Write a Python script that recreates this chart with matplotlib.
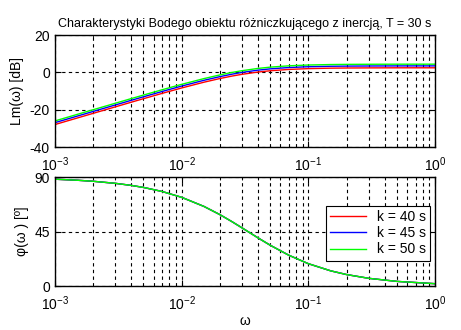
import matplotlib
matplotlib.use("Agg")
import matplotlib.pyplot as plt
from matplotlib.ticker import LogLocator, NullFormatter

plt.rcParams['font.family'] = ['Liberation Sans', 'DejaVu Sans']
plt.rcParams['mathtext.default'] = 'regular'
plt.rcParams['axes.unicode_minus'] = False

# Values
omega = [0.001, 0.0015, 0.002, 0.003, 0.004, 0.005, 0.007, 0.01, 0.015, 0.02, 0.025,
         0.03, 0.04, 0.05, 0.07, 0.1, 0.15, 0.2, 0.3, 0.5, 1.0]
lm_k40 = [-27.96, -24.45, -21.96, -18.46, -15.98, -14.08, -11.25, -8.33, -5.24, -3.28, -1.94,
          -1.00, 0.21, 0.90, 1.61, 2.04, 2.29, 2.38, 2.44, 2.48, 2.49]
lm_k45 = [-26.94, -23.43, -20.94, -17.44, -14.96, -13.06, -10.23, -7.31, -4.22, -2.26, -0.92,
          0.02, 1.23, 1.92, 2.63, 3.06, 3.31, 3.40, 3.46, 3.50, 3.51]
lm_k50 = [-26.02, -22.51, -20.02, -16.52, -14.04, -12.14, -9.31, -6.39, -3.30, -1.34, 0.00,
          0.94, 2.15, 2.84, 3.55, 3.98, 4.23, 4.32, 4.38, 4.42, 4.43]
phase = [88.28, 87.42, 86.57, 84.86, 83.16, 81.47, 78.14, 73.30, 65.77, 59.04, 53.13,
         48.01, 39.81, 33.69, 25.46, 18.43, 12.53, 9.46, 6.34, 3.81, 1.91]

labels = ['k = 40 s', 'k = 45 s', 'k = 50 s']
colors = ['#ff0000', '#0000ff', '#00ff00']

fig = plt.figure(figsize=(4.61, 3.30), dpi=100)
ax1 = fig.add_axes([0.119, 0.5545, 0.825, 0.339])
ax2 = fig.add_axes([0.119, 0.1333, 0.825, 0.330])

for lm, c in zip([lm_k40, lm_k45, lm_k50], colors):
    ax1.semilogx(omega, lm, color=c, linewidth=1.0)
for lab, c in zip(labels, colors):
    ax2.semilogx(omega, phase, color=c, linewidth=1.0, label=lab)


def style(ax):
    ax.set_xlim(1e-3, 1)
    ax.xaxis.set_major_locator(LogLocator(base=10, numticks=10))
    ax.xaxis.set_minor_locator(LogLocator(base=10, subs=range(2, 10), numticks=10))
    ax.xaxis.set_minor_formatter(NullFormatter())
    ax.grid(True, which='major', color='black', linestyle=(0, (3, 3)), linewidth=0.8)
    ax.grid(True, which='minor', axis='x', color='black', linestyle=(0, (3, 3)), linewidth=0.8)
    ax.tick_params(which='both', direction='in', top=True, right=True, labelsize=10)
    ax.tick_params(axis='x', which='major', pad=6)
    ax.tick_params(which='major', length=4)
    ax.tick_params(which='minor', length=2)
    for s in ax.spines.values():
        s.set_linewidth(1.0)


style(ax1)
ax1.set_ylim(-40, 20)
ax1.set_yticks([-40, -20, 0, 20])
ax1.set_ylabel('Lm(ω) [dB]', fontsize=10, labelpad=4)
ax1.set_title('Charakterystyki Bodego obiektu różniczkującego z inercją, T = 30 s',
              fontsize=9, pad=6)

style(ax2)
ax2.set_ylim(0, 90)
ax2.set_yticks([0, 45, 90])
ax2.set_ylabel('φ(ω ) [º]', fontsize=10, labelpad=4)
ax2.set_xlabel('ω', fontsize=10, labelpad=1)

leg = ax2.legend(loc='upper right', bbox_to_anchor=(0.987, 0.734), borderaxespad=0,
                 fancybox=False, framealpha=1, edgecolor='black', fontsize=10,
                 handlelength=2.6, labelspacing=0.15, borderpad=0.3)
leg.get_frame().set_linewidth(0.8)

fig.savefig('out.png', dpi=100)
